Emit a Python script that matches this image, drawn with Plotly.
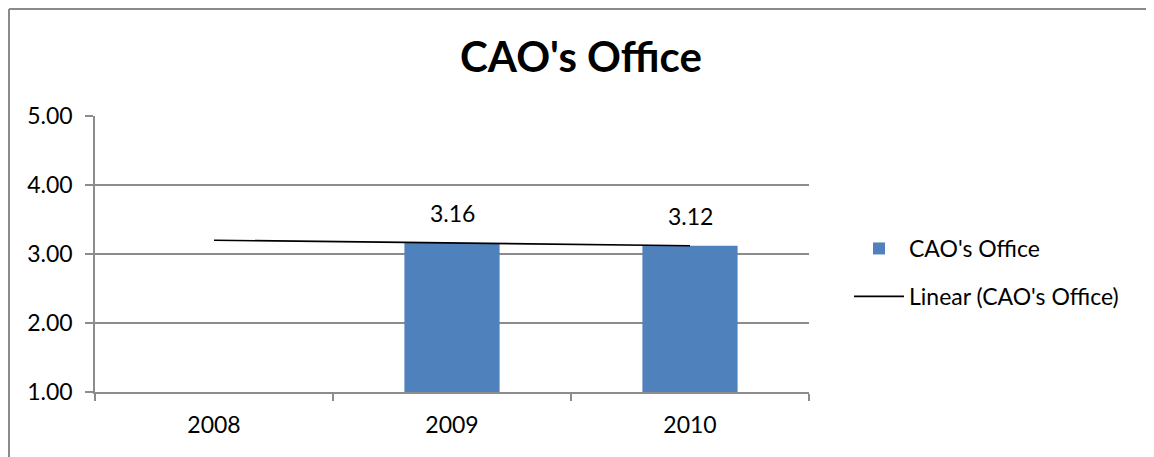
import numpy as np
import plotly.graph_objects as go

categories = ["2008", "2009", "2010"]
values = [None, 3.16, 3.12]
series_name = "CAO's Office"
title_text = "CAO's Office"
y_ticks = [1, 2, 3, 4, 5]

# linear trendline over available points (Excel style: x = 1..n)
xi = np.array([i + 1 for i, v in enumerate(values) if v is not None], dtype=float)
yi = np.array([v for v in values if v is not None], dtype=float)
slope, intercept = np.polyfit(xi, yi, 1)
trend = [slope * (i + 1) + intercept for i in range(len(categories))]

FONT = "Lato"
OFF = 8  # page body margin
SW, SH = 1154, 457
W, H = SW - OFF, SH - OFF
# desired plot area in screen pixels
PL, PR, PT, PB = 95, 809, 116, 392
L, T = PL - OFF, PT - OFF
R, B = W - (PR - OFF), H - (PB - OFF)
pw, ph = W - L - R, H - T - B

def px_x(sx):
    return (sx - OFF - L) / pw

def px_y(sy):
    return (H - B - (sy - OFF)) / ph

fig = go.Figure()
fig.add_trace(go.Bar(
    x=categories, y=values, name=series_name,
    marker=dict(color="#4F81BD", line=dict(width=0)),
    legendgroup="a",
))
fig.add_trace(go.Scatter(
    x=categories, y=trend, mode="lines", name="Linear (" + series_name + ")",
    line=dict(color="black", width=1.6),
    legendgroup="b",
))

for i, v in enumerate(values):
    if v is None:
        continue
    fig.add_annotation(x=i, y=v, text=f"{v:.2f}", showarrow=False,
                       yanchor="bottom", yshift=14,
                       font=dict(family=FONT, size=23, color="black"))

grid = "#8C8C8C"
fig.update_layout(
    width=W, height=H,
    margin=dict(l=L, r=R, t=T, b=B, autoexpand=False),
    paper_bgcolor="white", plot_bgcolor="white",
    bargap=0.6,
    title=dict(text="<b>" + title_text + "</b>", x=(581 - OFF) / W, xref="container", xanchor="center",
               y=1 - (57 - OFF) / H, yref="container", yanchor="middle",
               font=dict(family=FONT, size=42, color="black")),
    font=dict(family=FONT, size=23, color="black"),
    legend=dict(x=px_x(849), y=px_y(227), xanchor="left", yanchor="top",
                traceorder="grouped", tracegroupgap=15,
                font=dict(family=FONT, size=23, color="black"),
                itemwidth=50, bgcolor="rgba(0,0,0,0)"),
    xaxis=dict(type="category", range=[-0.5, 2.5], showline=True, linecolor=grid, linewidth=1.5,
               ticks="outside", tickson="boundaries", ticklen=7, tickcolor=grid,
               tickwidth=1.5, showgrid=False, ticklabelstandoff=12, tickangle=0,
               automargin=False,
               tickfont=dict(family=FONT, size=23, color="black")),
    yaxis=dict(range=[1, 5], tickvals=y_ticks, tickformat=".2f",
               showline=True, linecolor=grid, linewidth=1.5,
               ticks="outside", ticklen=8, tickcolor=grid, tickwidth=1.5,
               showgrid=True, gridcolor=grid, gridwidth=1.5, zeroline=False,
               ticklabelstandoff=8, automargin=False,
               tickfont=dict(family=FONT, size=23, color="black")),
    shapes=[
        dict(type="line", xref="paper", yref="paper",
             x0=px_x(OFF + 1), x1=px_x(OFF + 1), y0=px_y(SH + 5), y1=px_y(OFF + 1),
             line=dict(color="#8A8A8A", width=2)),
        dict(type="line", xref="paper", yref="paper",
             x0=px_x(OFF + 1), x1=px_x(SW + 5), y0=px_y(OFF + 1), y1=px_y(OFF + 1),
             line=dict(color="#8A8A8A", width=2)),
    ],
    showlegend=True,
)

fig.write_html("out.html")
